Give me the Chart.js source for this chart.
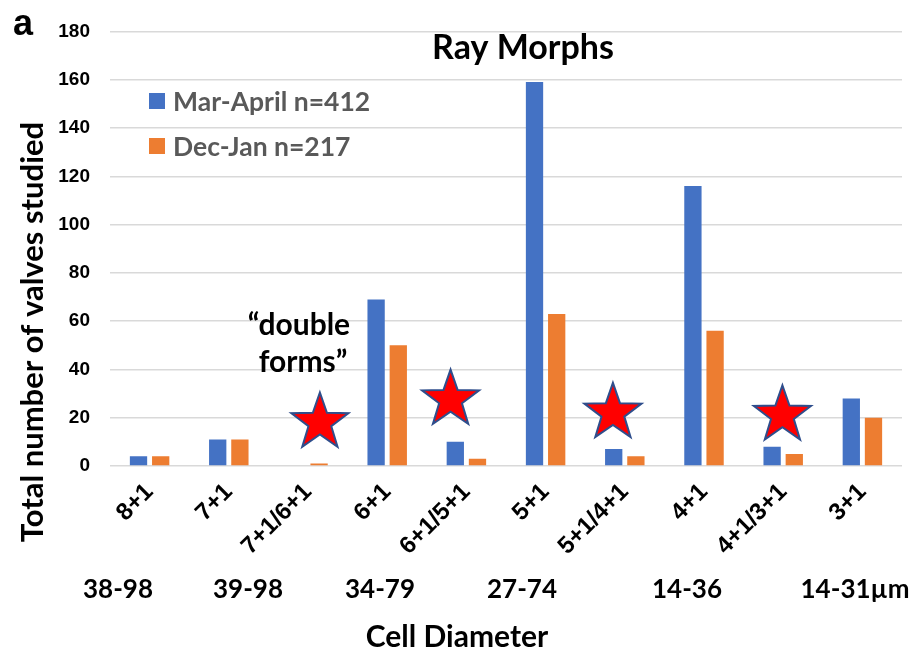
<!DOCTYPE html>
<html>
<head>
<meta charset="utf-8">
<script src="https://cdn.jsdelivr.net/npm/chart.js@4.4.1/dist/chart.umd.min.js"></script>
<style>
  html, body { margin: 0; padding: 0; background: #fff; }
  #wrap { width: 924px; height: 651px; }
</style>
</head>
<body>
<div id="wrap"><canvas id="myChart" width="924" height="651"></canvas></div>
<script>
// Chart data
const categories = ['8+1', '7+1', '7+1/6+1', '6+1', '6+1/5+1', '5+1', '5+1/4+1', '4+1', '4+1/3+1', '3+1'];
const marApril = [4, 11, 0, 69, 10, 159, 7, 116, 8, 28];
const decJan = [4, 11, 1, 50, 3, 63, 4, 56, 5, 20];
const seriesLabels = ['Mar-April n=412', 'Dec-Jan n=217'];
const yMax = 180;
const yStep = 20;
// Stars marking the "double forms" (x in category units)
const starPoints = [
    { x: 2.15, y: 18 },
    { x: 3.80, y: 27.5 },
    { x: 5.85, y: 22 },
    { x: 7.99, y: 21 }
];
const diameterLabels = ['38-98', '39-98', '34-79', '27-74', '14-36', '14-31\u00b5m'];

const BLUE = '#4472C4';
const ORANGE = '#ED7D31';
const SANS = 'Lato, "Open Sans", sans-serif';

// Draw one five-point star centred on (cx, cy)
function drawStar(g, cx, cy, R) {
    const r = R * 0.4;
    g.beginPath();
    for (let i = 0; i < 10; i++) {
        const rad = i % 2 === 0 ? R : r;
        const a = -Math.PI / 2 + i * Math.PI / 5;
        const px = cx + rad * Math.cos(a);
        const py = cy + rad * Math.sin(a);
        if (i === 0) g.moveTo(px, py); else g.lineTo(px, py);
    }
    g.closePath();
    g.fillStyle = '#FF0000';
    g.fill();
    g.lineWidth = 2;
    g.strokeStyle = '#2F4E8C';
    g.stroke();
}

// Stars placed with the chart scales
const stars = {
    id: 'stars',
    afterDatasetsDraw(chart) {
        const xs = chart.scales.x, ys = chart.scales.y;
        const ctx = chart.ctx;
        ctx.save();
        starPoints.forEach(p => {
            const i = Math.floor(p.x);
            const x0 = xs.getPixelForValue(i);
            const x1 = xs.getPixelForValue(i + 1);
            drawStar(ctx, x0 + (p.x - i) * (x1 - x0), ys.getPixelForValue(p.y), 30);
        });
        ctx.restore();
    }
};

// Texts drawn on top of the chart
const annotations = {
    id: 'annotations',
    afterDraw(chart) {
        const ctx = chart.ctx;
        ctx.save();
        ctx.fillStyle = '#000';

        // panel letter
        ctx.font = 'bold 36px "Liberation Sans", Arial, sans-serif';
        ctx.textAlign = 'left';
        ctx.textBaseline = 'alphabetic';
        ctx.fillText('a', 13, 35);

        // title
        ctx.font = 'bold 34px ' + SANS;
        ctx.textAlign = 'center';
        ctx.textBaseline = 'middle';
        ctx.fillText('Ray Morphs', 523, 48);

        // legend
        const colors = [BLUE, ORANGE];
        ctx.font = 'bold 26.5px ' + SANS;
        ctx.textAlign = 'left';
        seriesLabels.forEach((lab, i) => {
            const y = 101 + i * 45;
            ctx.fillStyle = colors[i];
            ctx.fillRect(149, y - 8, 16, 16);
            ctx.fillStyle = '#595959';
            ctx.fillText(lab, 173, y + 1);
        });

        // double forms note
        ctx.fillStyle = '#000';
        ctx.font = 'bold 30px ' + SANS;
        ctx.textAlign = 'center';
        ctx.fillText('\u201cdouble', 299, 325);
        ctx.fillText('forms\u201d', 303, 362);

        // y axis title
        ctx.save();
        ctx.translate(33, 332);
        ctx.rotate(-Math.PI / 2);
        ctx.font = 'bold 31px ' + SANS;
        ctx.fillText('Total number of valves studied', 0, 0);
        ctx.restore();

        // cell diameter row
        const dx = [118, 248, 380, 522, 687, 855];
        ctx.textBaseline = 'alphabetic';
        ctx.font = 'bold 26px ' + SANS;
        diameterLabels.forEach((lab, i) => ctx.fillText(lab, dx[i], 598));
        ctx.font = 'bold 30px ' + SANS;
        ctx.fillText('Cell Diameter', 457, 647);
        ctx.restore();
    }
};

const ctx = document.getElementById('myChart').getContext('2d');
const myChart = new Chart(ctx, {
    type: 'bar',
    data: {
        labels: categories,
        datasets: [
            {
                label: seriesLabels[0],
                data: marApril,
                backgroundColor: BLUE,
                categoryPercentage: 0.56,
                barPercentage: 0.78
            },
            {
                label: seriesLabels[1],
                data: decJan,
                backgroundColor: ORANGE,
                categoryPercentage: 0.56,
                barPercentage: 0.78
            }
        ]
    },
    options: {
        responsive: false,
        animation: false,
        layout: { padding: { left: 0, right: 22, top: 28, bottom: 0 } },
        plugins: {
            legend: { display: false },
            title: { display: false },
            tooltip: { enabled: false }
        },
        scales: {
            x: {
                type: 'category',
                grid: { display: false },
                border: { display: false },
                ticks: {
                    color: '#000',
                    font: { family: '"Liberation Sans", Arial, sans-serif', size: 24, weight: 'bold' },
                    minRotation: 45,
                    maxRotation: 45,
                    padding: 4
                },
                afterFit(scale) { scale.height = 185; }
            },
            y: {
                min: 0,
                max: yMax,
                grid: { color: '#D9D9D9', lineWidth: 1.5, drawTicks: false },
                border: { display: false },
                ticks: {
                    stepSize: yStep,
                    color: '#000',
                    padding: 20,
                    font: { family: '"Liberation Sans", Arial, sans-serif', size: 19, weight: 'bold' }
                },
                afterFit(scale) { scale.width = 110; }
            }
        }
    },
    plugins: [stars, annotations]
});
</script>
</body>
</html>
